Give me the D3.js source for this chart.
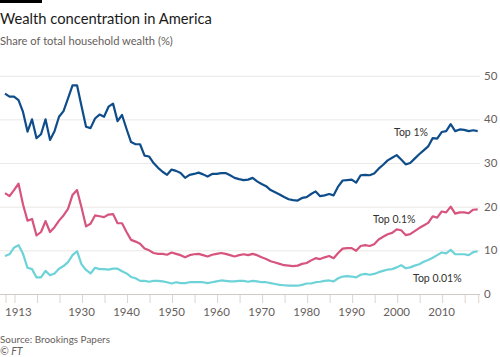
<!DOCTYPE html>
<html>
<head>
<meta charset="utf-8">
<script src="https://cdn.jsdelivr.net/npm/d3@7"></script>
<style>
  html, body { margin: 0; padding: 0; background: #fff; }
  svg { display: block; font-family: "Lato", "Open Sans", sans-serif; }
</style>
</head>
<body>
<svg id="chart" width="500" height="357"></svg>
<script>
const years = d3.range(1913, 2019);

const top1 = [
  45.9, 45.2, 45.2, 44.4, 41.7, 37.2, 40.0, 35.7, 36.6, 40.0,
  35.3, 37.3, 40.6, 41.9, 44.8, 47.8, 47.8, 43.0, 38.3, 38.0,
  40.2, 41.1, 40.6, 42.9, 43.6, 39.6, 41.0, 37.8, 34.8, 34.3,
  34.3, 31.7, 31.5, 30.0, 28.9, 28.0, 27.3, 28.5, 28.2, 27.7,
  26.6, 27.3, 27.5, 27.8, 27.4, 26.9, 27.5, 27.5, 27.7, 27.7,
  27.2, 26.6, 26.3, 26.1, 26.2, 26.6, 25.8, 25.2, 24.7, 23.8,
  23.3, 22.8, 22.2, 21.7, 21.5, 21.4, 22.0, 22.2, 22.9, 23.5,
  22.4, 22.6, 22.9, 22.6, 24.6, 26.0, 26.1, 26.2, 25.5, 27.2,
  27.3, 27.2, 27.6, 28.7, 29.6, 30.6, 31.2, 31.8, 30.8, 29.7,
  30.0, 31.0, 32.0, 32.9, 33.8, 35.7, 35.6, 37.1, 37.3, 38.9,
  37.3, 37.7, 37.6, 37.3, 37.5, 37.3
];

const top01 = [
  23.1, 22.4, 23.8, 25.3, 20.5, 16.8, 17.2, 13.4, 14.2, 16.7,
  14.2, 15.3, 16.8, 18.0, 19.5, 22.7, 23.8, 19.8, 15.5, 16.1,
  18.0, 17.8, 17.6, 18.2, 18.3, 16.2, 16.2, 14.2, 12.4, 12.0,
  11.5, 10.4, 10.0, 9.4, 9.2, 9.2, 9.0, 9.5, 9.2, 8.9,
  8.4, 8.9, 9.1, 9.2, 8.9, 8.6, 9.0, 9.2, 9.4, 9.2,
  8.9, 8.6, 8.9, 9.1, 8.9, 9.2, 8.9, 8.4, 8.0, 7.5,
  7.2, 6.9, 6.6, 6.5, 6.4, 6.5, 6.9, 7.1, 7.7, 8.2,
  8.0, 8.4, 8.7, 8.2, 9.4, 10.4, 10.5, 10.5, 9.9, 11.0,
  11.2, 11.0, 11.4, 12.5, 13.1, 13.7, 14.0, 14.8, 14.6, 13.5,
  13.7, 14.4, 15.1, 15.7, 16.3, 17.8, 17.5, 18.9, 18.7, 20.0,
  18.4, 18.7, 18.7, 18.5, 19.3, 19.4
];

const top001 = [
  8.7, 9.1, 10.6, 11.2, 9.2, 6.0, 5.7, 3.8, 3.8, 5.3,
  4.3, 4.7, 5.8, 6.4, 7.3, 8.9, 9.8, 6.8, 5.5, 4.7,
  6.0, 5.7, 5.7, 5.6, 5.8, 5.8, 5.2, 4.7, 3.9, 3.6,
  3.0, 3.0, 2.8, 3.0, 3.0, 2.9, 2.7, 2.4, 2.7, 2.5,
  2.5, 2.7, 2.7, 2.7, 2.7, 2.5, 2.7, 2.9, 3.1, 3.0,
  2.9, 2.9, 3.0, 3.0, 2.8, 3.0, 2.9, 2.7, 2.7, 2.5,
  2.3, 2.1, 2.0, 1.9, 1.9, 1.9, 2.1, 2.4, 2.4, 2.7,
  2.8, 3.0, 3.1, 2.9, 3.6, 4.0, 4.1, 4.0, 3.8, 4.4,
  4.6, 4.4, 4.6, 5.0, 5.3, 5.6, 5.7, 6.1, 6.6, 5.9,
  6.1, 6.5, 6.8, 7.4, 7.8, 8.3, 8.9, 9.5, 9.3, 10.1,
  9.1, 9.1, 9.1, 8.9, 9.6, 9.8
];

const yTicks = [0, 10, 20, 30, 40, 50];
const xTicks = [1913, 1915, 1920, 1925, 1930, 1935, 1940, 1945, 1950, 1955, 1960, 1965,
  1970, 1975, 1980, 1985, 1990, 1995, 2000, 2005, 2010, 2015, 2018];
const xLabels = [1913, 1930, 1940, 1950, 1960, 1970, 1980, 1990, 2000, 2010];

const seriesNames = ["Top 1%", "Top 0.1%", "Top 0.01%"];
const seriesColors = ["#0f4c8a", "#d6547e", "#6dd3d8"];
const seriesValues = [top1, top01, top001];

const title = "Wealth concentration in America";
const subtitle = "Share of total household wealth (%)";
const source = "Source: Brookings Papers";
const credit = "© FT";

const svg = d3.select("#chart");

const x = d3.scaleLinear().domain([1913, 2018]).range([5, 477.7]);
const y = d3.scaleLinear().domain([0, 50]).range([294, 75.7]);

// fit a text element's font size so its rendered width matches the target
function fitWidth(sel, target) {
  const node = sel.node();
  const w = node.getComputedTextLength();
  const fs = parseFloat(sel.attr("font-size"));
  if (w > 0) sel.attr("font-size", (fs * target / w).toFixed(2));
  return sel;
}

// top bar
svg.append("rect").attr("x", 0).attr("y", 0).attr("width", 42).attr("height", 3).attr("fill", "#000");

fitWidth(svg.append("text").attr("x", 0).attr("y", 24)
  .attr("font-size", 17).attr("fill", "#1a1a1a").text(title), 212);
fitWidth(svg.append("text").attr("x", 0).attr("y", 45)
  .attr("font-size", 11).attr("fill", "#66605c").text(subtitle), 173);

// gridlines
const grid = svg.append("g");
grid.selectAll("line").data(yTicks).join("line")
  .attr("x1", 0).attr("x2", 480)
  .attr("y1", d => y(d) + 0.5).attr("y2", d => y(d) + 0.5)
  .attr("stroke", d => d === 0 ? "#cfcac6" : "#ebe8e6")
  .attr("stroke-width", 1);

// y labels
svg.append("g").selectAll("text").data(yTicks).join("text")
  .attr("x", 484).attr("y", d => y(d) + 4)
  .attr("font-size", 11.5).attr("fill", "#66605c")
  .text(d => d);

// x axis
const xAxis = d3.axisBottom(x).tickValues(xTicks).tickSize(8).tickFormat("");
const gx = svg.append("g").attr("transform", `translate(0.5,${y(0) + 1})`).call(xAxis);
gx.select(".domain").remove();
gx.selectAll(".tick line").attr("stroke", "#d9d4d0");

svg.append("g").selectAll("text").data(xLabels).join("text")
  .attr("x", d => x(d))
  .attr("y", 316)
  .attr("text-anchor", d => d === 1913 ? "start" : "middle")
  .attr("font-size", 11.5).attr("fill", "#66605c")
  .text(d => d);

// lines
const line = d3.line().x((d, i) => x(years[i])).y(d => y(d));
svg.append("g").selectAll("path").data(seriesValues).join("path")
  .attr("d", d => line(d))
  .attr("fill", "none")
  .attr("stroke", (d, i) => seriesColors[i])
  .attr("stroke-width", 2.2)
  .attr("stroke-linejoin", "round");

// series labels
const labelPos = [[394, 136], [373, 222.5], [413, 282]];
svg.append("g").selectAll("text").data(seriesNames).join("text")
  .attr("x", (d, i) => labelPos[i][0]).attr("y", (d, i) => labelPos[i][1])
  .attr("font-size", 10.5).attr("fill", "#33302e")
  .text(d => d);

fitWidth(svg.append("text").attr("x", 0).attr("y", 343)
  .attr("font-size", 10).attr("fill", "#66605c").text(source), 110);
svg.append("text").attr("x", 0).attr("y", 355)
  .attr("font-size", 10.5).attr("font-style", "italic").attr("fill", "#66605c").text(credit);
</script>
</body>
</html>
